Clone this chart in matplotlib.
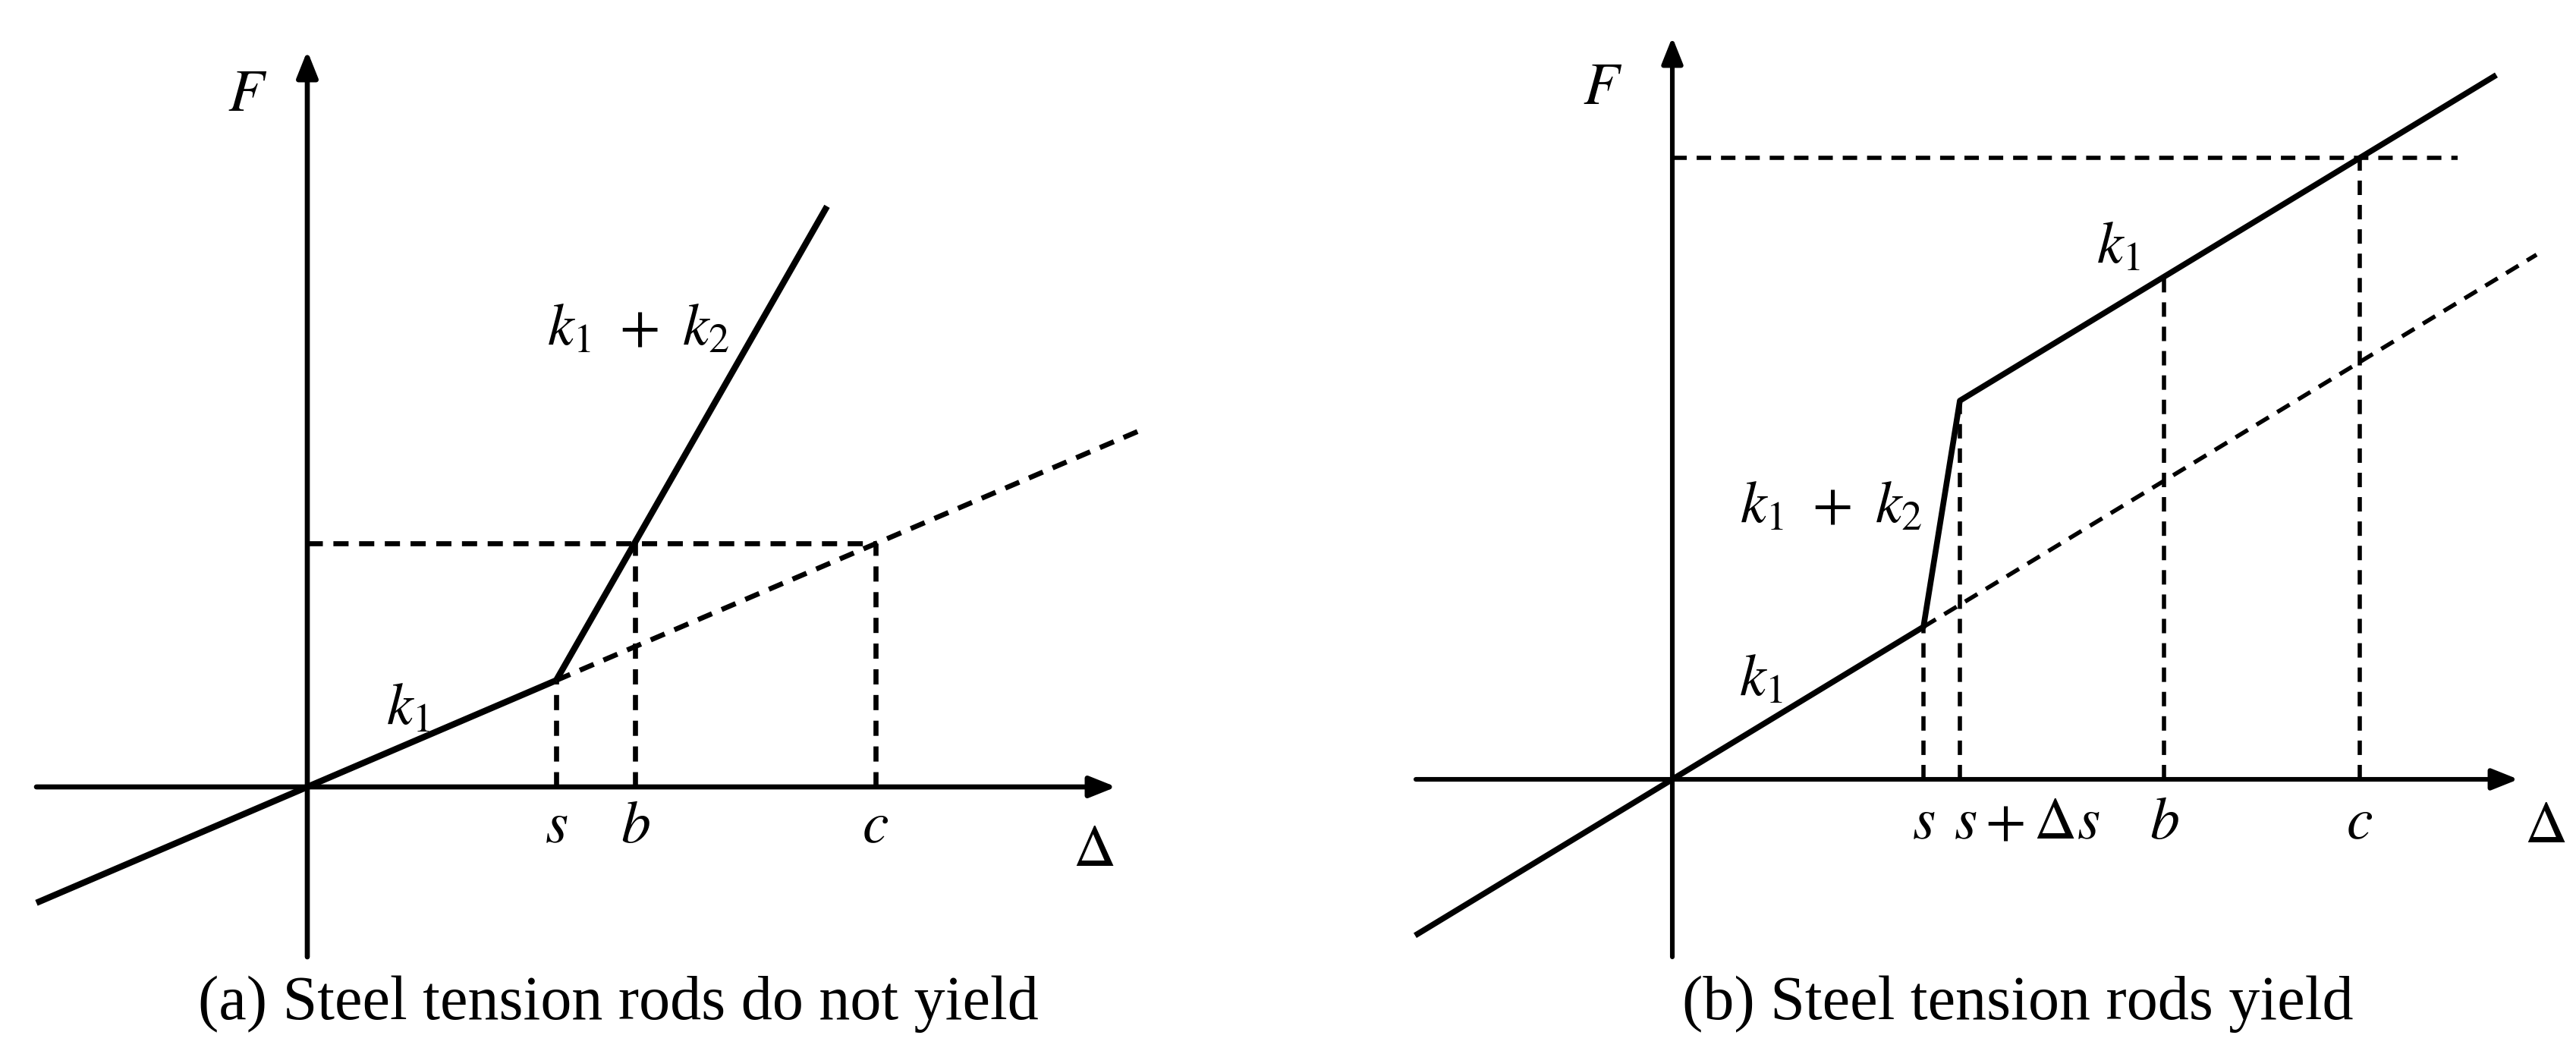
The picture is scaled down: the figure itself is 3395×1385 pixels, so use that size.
import matplotlib
matplotlib.use('Agg')
import matplotlib.pyplot as plt

plt.rcParams['mathtext.fontset'] = 'stix'
plt.rcParams['lines.scale_dashes'] = False

# ---- panel (a): steel tension rods do not yield (units: deformation / force) ----
a_marks = ['s', 'b', 'c']
a_delta = [328, 432, 749]          # s, b, c on the deformation axis
a_k1 = 0.428                       # slope of the k1 branch
a_k12 = 1.75                       # slope of the k1 + k2 branch
a_ends = [-357, 685, 1103]         # left end, top of steep branch, end of dashed k1
a_axis = [-357, 1066, -224, 970]   # x-axis from/to, y-axis from/to

# ---- panel (b): steel tension rods yield ----
b_marks = ['s', r's+\Delta s', 'b', 'c']
b_delta = [331, 379, 648, 906]     # s, s+ds, b, c
b_k1 = 0.607
b_F_yield = 499                    # force at s + ds
b_ends = [-339, 1086, 1139, 1035]  # left end, upper end, dashed end, horizontal dashed end
b_axis = [-338, 1115, -234, 978]

captions = ['(a) Steel tension rods do not yield', '(b) Steel tension rods yield']

fig = plt.figure(figsize=(33.95, 13.85), dpi=100)
ax_a = fig.add_axes([0, 0, 0.5, 1])
ax_b = fig.add_axes([0.5, 0, 0.5, 1])
ax_a.set_xlim(-405, 1292.5)
ax_a.set_ylim(-348, 1037)
ax_b.set_xlim(-506.5, 1191)
ax_b.set_ylim(-358, 1027)
for ax in (ax_a, ax_b):
    ax.set_axis_off()

math_size = 56
cap_size = 59
k12_label = r'$k_1\ +\ k_2$'


def draw_axes(ax, lims, lw):
    x0, x1, y0, y1 = lims
    for start, end in (((x0, 0), (x1, 0)), ((0, y0), (0, y1))):
        ax.annotate('', xy=end, xytext=start,
                    arrowprops=dict(arrowstyle='-|>,head_length=0.7,head_width=0.28',
                                    mutation_scale=30, lw=lw, color='black',
                                    shrinkA=0, shrinkB=0))


# ---------------- panel (a) ----------------
s, b, c = a_delta
Fs = a_k1 * s
Fc = a_k1 * c
Fb = Fs + a_k12 * (b - s)
draw_axes(ax_a, a_axis, 4.8)
solid = dict(color='black', lw=6, solid_capstyle='butt')
dash = dict(color='black', lw=4.8, linestyle=(0, (14.4, 10)))
ax_a.plot([a_ends[0], s], [a_k1 * a_ends[0], Fs], **solid)
ax_a.plot([s, a_ends[1]], [Fs, Fs + a_k12 * (a_ends[1] - s)], **solid)
ax_a.plot([s, a_ends[2]], [Fs, a_k1 * a_ends[2]], **dash)
ax_a.plot([0, c], [Fc, Fc], **dash)
for d, top in zip(a_delta, [Fs, Fb, Fc]):
    ax_a.plot([d, d], [0, top], **dash)
for d, m in zip(a_delta, a_marks):
    ax_a.text(d, -51, '$' + m + '$', fontsize=math_size, ha='center', va='center')
ax_a.text(1036, -82, r'$\Delta$', fontsize=math_size, ha='center', va='center')
ax_a.text(-79, 913, '$F$', fontsize=math_size, ha='center', va='center')
ax_a.text(133, 105, '$k_1$', fontsize=math_size, ha='center', va='center')
ax_a.text(436, 606, k12_label, fontsize=math_size, ha='center', va='center')
ax_a.text(410, -286, captions[0], fontsize=cap_size, family='Liberation Serif',
          ha='center', va='center')

# ---------------- panel (b) ----------------
s, sd, b, c = b_delta
Fs = b_k1 * s
upper = lambda d: b_F_yield + b_k1 * (d - sd)
Fc = upper(c)
draw_axes(ax_b, b_axis, 4.4)
solid = dict(color='black', lw=5.5, solid_capstyle='butt')
dash = dict(color='black', lw=4.0, linestyle=(0, (13.7, 9.4)))
ax_b.plot([b_ends[0], s, sd, b_ends[1]],
          [b_k1 * b_ends[0], Fs, b_F_yield, upper(b_ends[1])], **solid)
ax_b.plot([s, b_ends[2]], [Fs, b_k1 * b_ends[2]], **dash)
ax_b.plot([0, b_ends[3]], [Fc, Fc], **dash)
for d, top in zip(b_delta, [Fs, b_F_yield, upper(b), Fc]):
    ax_b.plot([d, d], [0, top], **dash)
for d, m in zip(b_delta, b_marks):
    if m.startswith('s+'):
        ax_b.text(d - 8, -56, '$' + m + '$', fontsize=math_size, ha='left', va='center')
    else:
        ax_b.text(d, -56, '$' + m + '$', fontsize=math_size, ha='center', va='center')
ax_b.text(1150, -61, r'$\Delta$', fontsize=math_size, ha='center', va='center')
ax_b.text(-92, 912, '$F$', fontsize=math_size, ha='center', va='center')
ax_b.text(117, 134, '$k_1$', fontsize=math_size, ha='center', va='center')
ax_b.text(209, 361, k12_label, fontsize=math_size, ha='center', va='center')
ax_b.text(588, 703, '$k_1$', fontsize=math_size, ha='center', va='center')
ax_b.text(455, -296, captions[1], fontsize=cap_size, family='Liberation Serif',
          ha='center', va='center')

fig.savefig('out.png', dpi=100, facecolor='white')
